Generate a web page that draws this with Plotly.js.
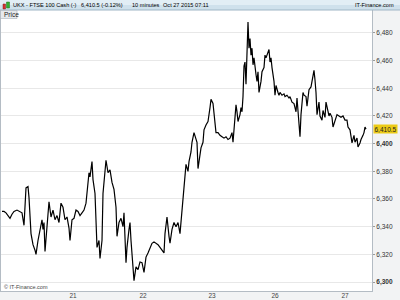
<!DOCTYPE html>
<html><head><meta charset="utf-8">
<script src="https://cdn.plot.ly/plotly-3.0.1.min.js"></script>
<style>html,body{margin:0;padding:0;background:#fff}#chart{width:400px;height:300px}</style>
</head><body><div id="chart"></div>
<script>
// bar position (time index, 10-minute bars) and closing price
const bars = [0,2,4,6,8,10,12,15,18,20,22,24,26,27,29,31,33,34,36,38,40,41,42,43,45,47,49,51,53,55,57,59,61,63,65,67,68,70,72,74,76,78,80,82,84,85,87,88,90,91,93,95,97,98,100,101,103,104,106,108,110,112,114,115,117,119,121,122,124,125,127,128,129,131,132,134,136,138,140,142,144,146,148,150,152,154,156,158,160,162,163,165,167,168,170,172,174,176,178,180,182,184,186,187,189,190,192,193,195,196,198,199,201,202,204,206,208,209,211,212,213,214,216,218,220,222,224,226,228,230,231,233,234,235,236,238,239,240,241,242,243,244,245,246,247,248,249,250,251,252,254,255,256,257,259,260,262,263,264,266,267,268,269,270,272,273,274,276,277,278,280,282,283,285,287,288,290,292,293,294,295,296,298,299,300,301,302,304,305,306,307,309,310,311,312,313,314,315,317,318,320,321,323,324,325,327,328,330,331,333,335,337,339,341,343,345,346,348,349,350,352,353,355,356,358,359,361,362,363,364];
const prices = [6351,6351,6350,6348,6346,6349,6351,6352,6351,6350,6341,6368,6369,6361,6335,6327,6323,6320,6330,6338,6345,6338,6343,6322,6340,6358,6347,6352,6345,6348,6343,6357,6354,6345,6347,6339,6330,6345,6346,6352,6351,6348,6350,6352,6357,6364,6379,6376,6387,6374,6364,6325,6330,6317,6330,6364,6379,6388,6379,6381,6372,6367,6354,6333,6343,6346,6340,6350,6314,6325,6338,6343,6330,6314,6301,6311,6309,6314.5,6314,6307,6318,6321,6325,6328,6329,6328,6327,6325,6323,6321,6335,6347,6333,6328,6338,6343,6340,6343,6335,6351,6370,6385,6380,6387,6394,6401,6408,6406,6401,6382,6392,6397,6401,6410,6413.5,6416,6426,6432,6429,6423,6413.5,6408,6408,6406,6405,6404,6405,6403,6404,6408,6401,6421,6428,6423,6416,6421,6426,6423,6434,6456,6459,6443,6479,6488,6469,6476,6464,6469,6457,6462,6450,6445,6452,6437,6445,6452,6455,6464,6462,6466,6468,6459,6462,6455,6445,6435,6442,6437,6435,6437,6435,6436,6434,6435,6433,6434,6430,6429,6426,6423,6433,6423,6405,6421,6430,6437,6435,6434,6427,6432,6439,6441,6446,6448,6453,6446,6437,6421,6430,6420,6417,6424,6419,6430,6427,6420,6422,6419,6412,6417,6421,6420,6419,6420,6417,6417,6412,6410,6404,6400.5,6406,6401,6404,6397.6,6400.5,6403,6406,6408,6412,6410.5];
const dayTicks = [71,141,210,273,343];
const dayLabels = ['21','22','23','26','27'];
const priceTicks = [6300,6320,6340,6360,6380,6400,6420,6440,6460,6480];
const priceLabels = ['<b>6,300</b>','6,320','6,340','6,360','6,380','<b>6,400</b>','6,420','6,440','6,460','6,480'];
const lastPrice = 6410.5;
const lastLabel = '6,410.5';
const headerItems = ['UKX - FTSE 100 Cash (-)','6,410.5 (-0.12%)','10 minutes','Oct 27 2015 07:11'];

const W=400,H=300,ml=1,mr=28,mt=10,mb=9;
const pw=W-ml-mr, ph=H-mt-mb;
const px = x => (x-ml)/pw;          // pixel -> paper x
const py = y => (H-mb-y)/ph;        // pixel -> paper y
const F = 'Arial, "Liberation Sans", sans-serif';

const shapes = [
  {type:'rect',xref:'paper',yref:'paper',x0:px(0),x1:px(400),y0:py(10),y1:py(0),fillcolor:'#cfe1ec',line:{width:0},layer:'above'},
  {type:'rect',xref:'paper',yref:'paper',x0:px(0),x1:px(400),y0:py(5),y1:py(0),fillcolor:'#e2eef5',line:{width:0},layer:'above'},
  {type:'line',xref:'paper',yref:'paper',x0:px(0),x1:px(400),y0:py(10),y1:py(10),line:{color:'#9fb6c6',width:1},layer:'above'},
  {type:'rect',xref:'paper',yref:'paper',x0:px(3),x1:px(5.5),y0:py(9),y1:py(4),fillcolor:'#d83030',line:{color:'#802020',width:0.5},layer:'above'},
  {type:'rect',xref:'paper',yref:'paper',x0:px(6.5),x1:px(9.5),y0:py(8),y1:py(2),fillcolor:'#30b030',line:{color:'#207020',width:0.5},layer:'above'},
  {type:'rect',xref:'paper',yref:'paper',x0:px(0.5),x1:px(17),y0:py(18.5),y1:py(10.5),fillcolor:'#e6e9ec',line:{color:'#a8b0b8',width:0.6},layer:'above'}
];
const hx=[11,79,130,161];
const annotations = headerItems.map((t,i)=>({text:t,xref:'paper',yref:'paper',x:px(hx[i]),y:py(5.5),xanchor:'left',yanchor:'middle',showarrow:false,font:{family:F,size:5.6,color:'#000'}}));
annotations.push({text:'IT-Finance.com',xref:'paper',yref:'paper',x:px(396),y:py(5.5),xanchor:'right',yanchor:'middle',showarrow:false,font:{family:F,size:5.6,color:'#000'}});
annotations.push({text:'Price',xref:'paper',yref:'paper',x:px(2),y:py(14.5),xanchor:'left',yanchor:'middle',showarrow:false,font:{family:F,size:6.5,color:'#222'}});
annotations.push({text:'© IT-Finance.com',xref:'paper',yref:'paper',x:px(2),y:py(287),xanchor:'left',yanchor:'middle',showarrow:false,font:{family:F,size:5.5,color:'#444'}});
annotations.push({text:lastLabel,xref:'paper',yref:'y',x:1,y:lastPrice,xanchor:'left',yanchor:'middle',xshift:1,showarrow:false,bgcolor:'#eccb16',borderpad:0.5,font:{family:F,size:6.5,color:'#222'}});

const data=[{x:bars,y:prices,type:'scatter',mode:'lines',line:{color:'#000',width:1.2},hoverinfo:'none'}];
const layout={
  width:W,height:H,margin:{l:ml,r:mr,t:mt,b:mb,pad:0},
  paper_bgcolor:'#f2f3f4',plot_bgcolor:'#ffffff',showlegend:false,
  xaxis:{range:[-1,370],tickvals:dayTicks,ticktext:dayLabels,showgrid:false,zeroline:false,
    showline:true,mirror:true,linecolor:'#b4bcc4',linewidth:1,ticks:'',ticklabelstandoff:-2,
    tickfont:{family:F,size:6.5,color:'#444'}},
  yaxis:{side:'right',range:[6293.5,6496.6],tickvals:priceTicks,ticktext:priceLabels,showgrid:true,gridcolor:'#e8e8e8',gridwidth:1,zeroline:false,
    showline:true,mirror:true,linecolor:'#b4bcc4',linewidth:1,ticks:'outside',ticklen:2,tickcolor:'#999',
    tickfont:{family:F,size:6.5,color:'#333'}},
  shapes:shapes,annotations:annotations
};
Plotly.newPlot('chart',data,layout,{staticPlot:true,displayModeBar:false});
</script></body></html>
